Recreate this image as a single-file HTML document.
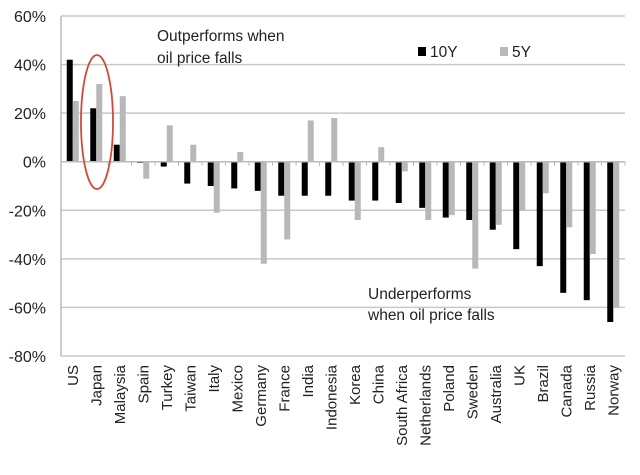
<!DOCTYPE html>
<html><head><meta charset="utf-8"><style>
html,body{margin:0;padding:0;background:#fff;}
svg{display:block;font-family:"Liberation Sans",Arial,sans-serif;}
</style></head><body>
<svg id="chart" width="640" height="475"></svg>
<script>
const categories=["US","Japan","Malaysia","Spain","Turkey","Taiwan","Italy","Mexico","Germany","France","India","Indonesia","Korea","China","South Africa","Netherlands","Poland","Sweden","Australia","UK","Brazil","Canada","Russia","Norway"];
const series10Y=[42,22,7,-0.5,-2,-9,-10,-11,-12,-14,-14,-14,-16,-16,-17,-19,-23,-24,-28,-36,-43,-54,-57,-66];
const series5Y=[25,32,27,-7,15,7,-21,4,-42,-32,17,18,-24,6,-4,-24,-22,-44,-26,-20,-13,-27,-38,-60];
const yTicks=[60,40,20,0,-20,-40,-60,-80];
const NS="http://www.w3.org/2000/svg";
const svg=document.getElementById('chart');
const x0=61,x1=625,yTop=16,yBot=356,vMax=60,vMin=-80;
const bw=(x1-x0)/categories.length;
function y(v){return yTop+(vMax-v)/(vMax-vMin)*(yBot-yTop);}
function xc(i){return x0+bw*(i+0.5);}
function mk(tag,attrs,parent){const e=document.createElementNS(NS,tag);for(const k in attrs)e.setAttribute(k,attrs[k]);(parent||svg).appendChild(e);return e;}
yTicks.forEach(t=>{
  const l=mk('line',{x1:x0,x2:x1,y1:y(t),y2:y(t),stroke:'#c8c8c8','stroke-width':1.5});
  
  
  const tx=mk('text',{x:46,y:y(t)+6,'text-anchor':'end','font-size':16,fill:'#222'});
  tx.textContent=t+'%';
  
  
});
const ax=mk('line',{x1:x0,x2:x0,y1:yTop,y2:yBot,stroke:'#bbb','stroke-width':1.5});


categories.forEach((c,i)=>{
  const cx=xc(i);
  const b1=mk('rect',{x:cx-6,width:6,y:Math.min(y(0),y(series10Y[i])),height:Math.abs(y(series10Y[i])-y(0)),fill:'#000'});
  
  
  const b2=mk('rect',{x:cx,width:6,y:Math.min(y(0),y(series5Y[i])),height:Math.abs(y(series5Y[i])-y(0)),fill:'#b8b8b8'});
  
  
  const tk=mk('line',{x1:x0+bw*(i+1),x2:x0+bw*(i+1),y1:y(0),y2:y(0)+4,stroke:'#bbb','stroke-width':1});
  
  
  const lb=mk('text',{transform:`translate(${cx+5},365) rotate(-90)`,'text-anchor':'end','font-size':15,fill:'#222'});
  lb.textContent=c;
  
  
});
const zl=mk('line',{x1:x0,x2:x1,y1:y(0),y2:y(0),stroke:'#bbb','stroke-width':1.5});


</script>
<svg width="640" height="475" style="position:absolute;left:0;top:0">
<ellipse cx="97" cy="122" rx="16" ry="67" fill="none" stroke="#d04a3a" stroke-width="1.8"/>
<text x="157" y="41" font-size="15.5" fill="#222">Outperforms when</text>
<text x="157" y="63" font-size="15.5" fill="#222">oil price falls</text>
<text x="368" y="299" font-size="15.5" fill="#222">Underperforms</text>
<text x="368" y="320" font-size="15.5" fill="#222">when oil price falls</text>
<rect x="418" y="47" width="8" height="9" fill="#000"/>
<text x="430" y="57" font-size="15.5" fill="#222">10Y</text>
<rect x="500" y="47" width="8" height="9" fill="#b8b8b8"/>
<text x="512" y="57" font-size="15.5" fill="#222">5Y</text>
</svg>
</body></html>
